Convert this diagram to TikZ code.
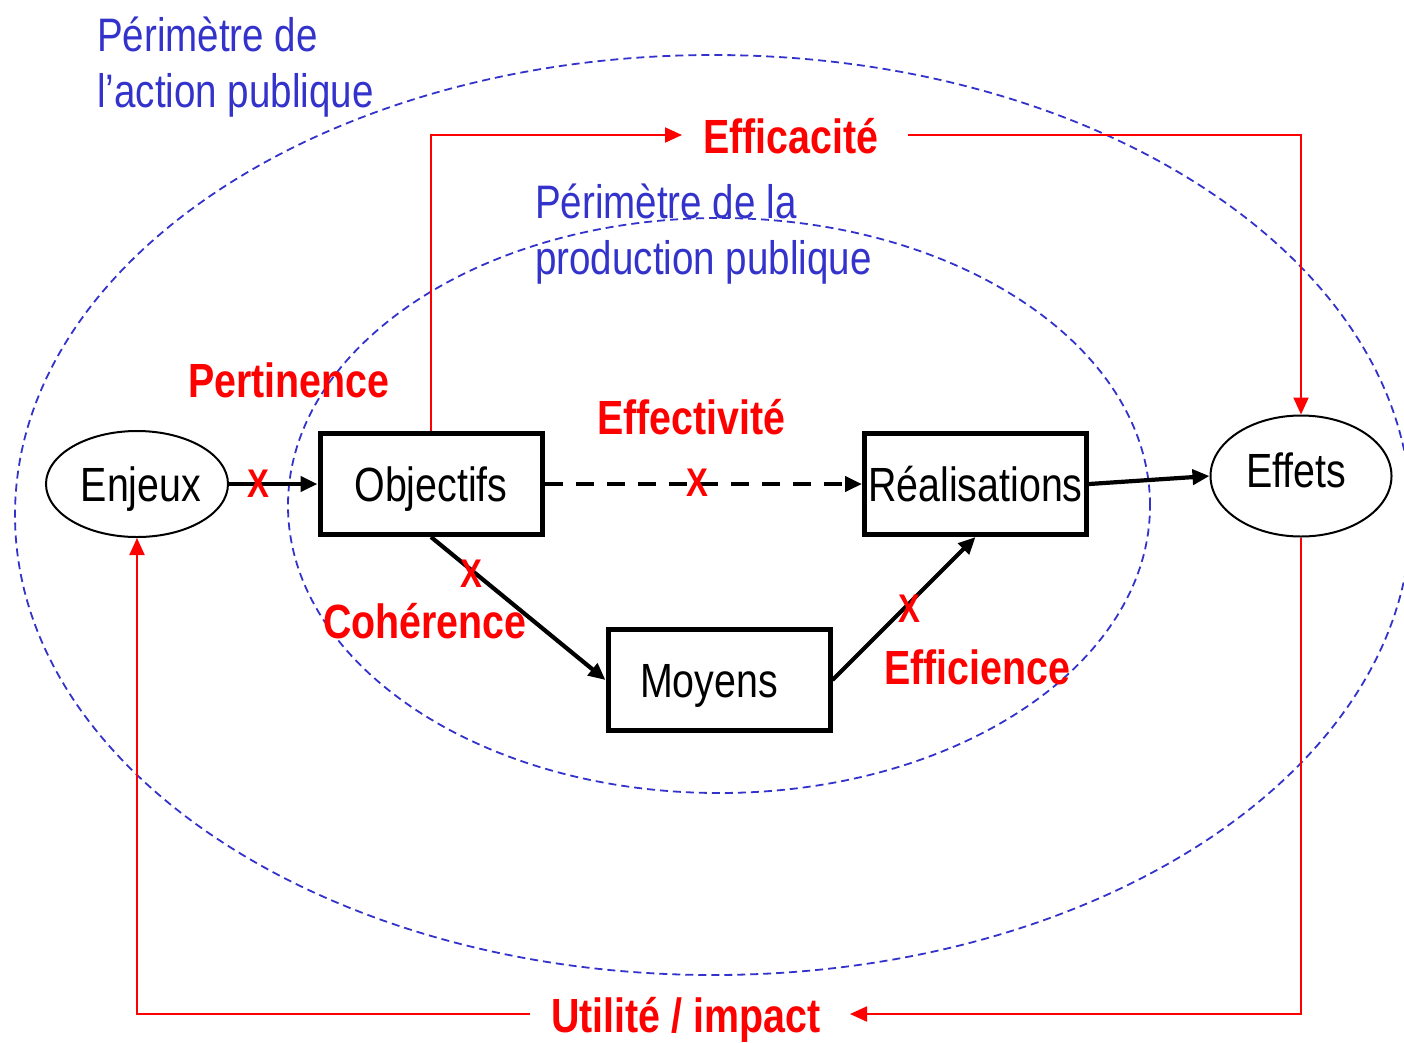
\documentclass[tikz,border=0pt]{standalone}
\usepackage{fontspec}
\setmainfont{Liberation Sans}[FakeStretch=0.82]
\usetikzlibrary{arrows.meta,shapes.geometric}
\definecolor{perim}{RGB}{51,51,204}
\definecolor{rouge}{RGB}{255,0,0}
\begin{document}
\begin{tikzpicture}[x=1pt,y=-1pt,
  box/.style={draw, line width=5pt, minimum width=222pt, minimum height=101pt, inner sep=0pt,
    text height=34pt, text depth=0pt, font=\fontsize{48}{56}\selectfont},
  oval/.style={draw, ellipse, line width=2pt, inner sep=0pt,
    text height=34pt, text depth=0pt, font=\fontsize{48}{56}\selectfont},
  lbl/.style={text=rouge, font=\bfseries\fontsize{48}{56}\selectfont, inner sep=0pt, anchor=base west},
  perimtxt/.style={text=perim, font=\fontsize{47}{56}\selectfont, inner sep=0pt, anchor=base west},
  cross/.style={text=rouge, font=\bfseries\fontsize{40}{48}\selectfont, inner sep=0pt, text height=29pt, text depth=0pt},
  flow/.style={line width=4.2pt, -{Triangle[length=17pt,width=15pt]}},
  dashflow/.style={flow, dash pattern=on 18pt off 13pt},
  redflow/.style={draw=rouge, line width=2pt, -{Triangle[length=17pt,width=15pt]}},
  perimline/.style={draw=perim, line width=1.8pt, dash pattern=on 8pt off 5pt}
]
\useasboundingbox (0,0) rectangle (1404,1042);

% perimeters
\draw[perimline] (713,515) ellipse [x radius=698pt, y radius=460pt];
\draw[perimline] (719,505.5) ellipse [x radius=431pt, y radius=287.5pt];

\node[perimtxt] (pa1) at (97,51) {Périmètre de};
\node[perimtxt] (pa2) at (97,107) {l’action publique};
\node[perimtxt] (pp1) at (535,218) {Périmètre de la};
\node[perimtxt] (pp2) at (535,274) {production publique};

% nodes
\node[oval, minimum width=182pt, minimum height=106pt] (enj) at (137,484) {\hspace*{8pt}Enjeux};
\node[oval, minimum width=181pt, minimum height=121pt, text depth=12pt] (eff) at (1301,476) {\hspace*{-10pt}Effets};
\node[box] (obj) at (431,484) {Objectifs};
\node[box] (rea) at (975.5,484) {Réalisations};
\node[box] (moy) at (719,680) {\hspace*{-20pt}Moyens};

% black connectors
\draw[flow] (enj.east) -- (obj.west);
\draw[dashflow] (obj.east) -- (rea.west);
\draw[flow] (obj.south) -- (moy.west);
\draw[flow] (moy.east) -- (rea.south);
\draw[flow] (rea.east) -- (eff.west);

% crosses
\node[cross] (x1) at (258,483) {X};
\node[cross] (x2) at (697,482) {X};
\node[cross] (x3) at (471,573) {X};
\node[cross] (x4) at (909,608) {X};

% red labels
\node[lbl] (pert) at (188,397) {Pertinence};
\node[lbl] (effect) at (597,434) {Effectivité};
\node[lbl] (coh) at (323,638) {Cohérence};
\node[lbl] (effic) at (884,684) {Efficience};
\node[lbl] (effica) at (703,153) {Efficacité};
\node[lbl] (util) at (551,1032) {Utilité / impact};

% red loops
\coordinate (efaL) at (682,135);
\coordinate (efaR) at (908,135);
\coordinate (utR) at (850,1014);
\coordinate (utL) at (530,1014);
\draw[redflow] (obj.north) |- (efaL);
\draw[redflow] (efaR) -| (eff.north);
\draw[redflow] (eff.south) |- (utR);
\draw[redflow] (utL) -| (enj.south);
\end{tikzpicture}
\end{document}
